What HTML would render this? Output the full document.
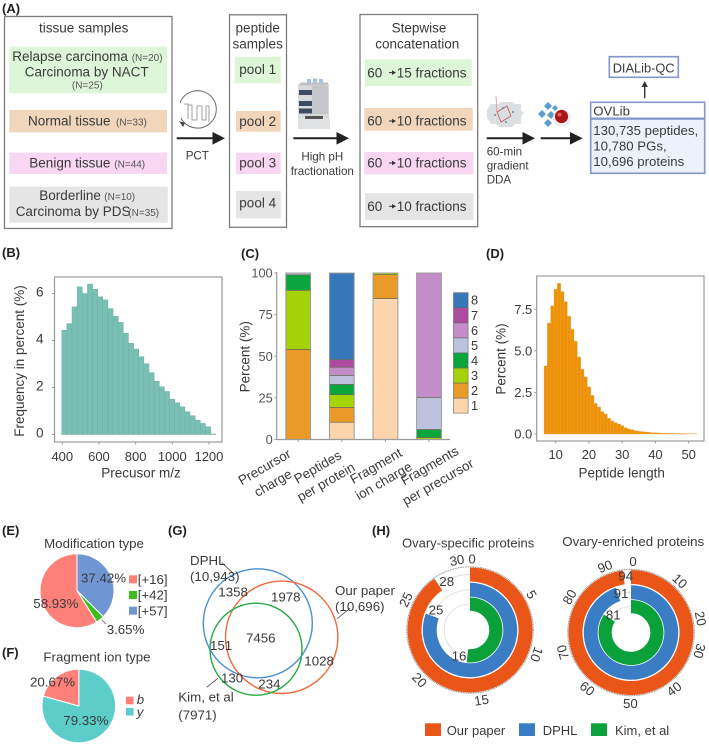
<!DOCTYPE html>
<html lang="en">
<head>
<meta charset="utf-8">
<title>Ovarian spectral library figure</title>
<style>
html,body{margin:0;padding:0;background:#fff;}
svg{display:block;filter:blur(0.3px);}
text{font-family:"Liberation Sans",Arial,sans-serif;fill:#3a3a3a;}
.b{font-weight:700;font-size:13px;fill:#222;}
.m{font-size:13.5px;}
.s{font-size:10px;fill:#555;}
.t{font-size:11.6px;}
.box{fill:#fff;stroke:#7c7c7c;stroke-width:1.3;}
.lib{stroke:#8497ca;stroke-width:1.6;}
</style>
</head>
<body>
<svg id="fig" xmlns="http://www.w3.org/2000/svg" width="709" height="748" viewBox="0 0 709 748">
<rect width="709" height="748" fill="#fff"/>

<text class="b" x="2" y="13">(A)</text>
<text class="b" x="2" y="257">(B)</text>
<text class="b" x="241" y="258">(C)</text>
<text class="b" x="486" y="258">(D)</text>
<text class="b" x="2" y="535">(E)</text>
<text class="b" x="2" y="657">(F)</text>
<text class="b" x="168" y="535">(G)</text>
<text class="b" x="372" y="535">(H)</text>

<!-- Panel A -->
<g>
<rect class="box" x="4.5" y="16.5" width="167.5" height="212"/>
<text class="m" x="83.7" y="32.7" text-anchor="middle">tissue samples</text>
<rect x="9.3" y="46.7" width="157.7" height="46.6" fill="#def6d8"/>
<text class="m" x="12.3" y="61">Relapse carcinoma</text>
<text class="s" x="131.7" y="61">(N=20)</text>
<text class="m" x="86.7" y="76.7" text-anchor="middle">Carcinoma by NACT</text>
<text class="s" x="87.3" y="88.7" text-anchor="middle">(N=25)</text>
<rect x="9.3" y="110" width="157.7" height="22.3" fill="#f1d6bc"/>
<text class="m" x="28" y="125.7">Normal tissue</text>
<text class="s" x="116" y="125.7">(N=33)</text>
<rect x="9.3" y="152.7" width="157.7" height="21.3" fill="#f9d6f1"/>
<text class="m" x="29.3" y="167.7">Benign tissue</text>
<text class="s" x="114.3" y="167.7">(N=44)</text>
<rect x="9.3" y="186.7" width="158.5" height="36" fill="#e5e5e5"/>
<text class="m" x="39.3" y="200">Borderline</text>
<text class="s" x="104.3" y="200">(N=10)</text>
<text class="m" x="15.7" y="216">Carcinoma by PDS</text>
<text class="s" x="128.3" y="216">(N=35)</text>
</g>

<g fill="none" stroke="#666">
<path d="M181 118 A18.7 18.7 0 1 0 180 103" stroke-width="1"/>
<path d="M184 104 L188 104 L188 119 M188 105 H192 V120 H197 V106 H202 V120 H206 V106 H209 V122" stroke-width="0.8" stroke="#888"/>
<polygon points="179,121 185,123 183,127" fill="#444" stroke="none"/>
</g>
<g>
<line x1="176.7" y1="138.3" x2="214" y2="138.3" stroke="#222" stroke-width="2"/>
<polygon points="212.5,132 225,138.3 212.5,144.6" fill="#222"/>
</g>
<text class="t" x="197.3" y="159.3" text-anchor="middle">PCT</text>

<g>
<rect class="box" x="229.5" y="14.8" width="57" height="212.5"/>
<text class="m" x="257.7" y="32.7" text-anchor="middle">peptide</text>
<text class="m" x="257.7" y="48.3" text-anchor="middle">samples</text>
<rect x="234.7" y="56.7" width="46" height="26.6" fill="#def6d8"/>
<text class="m" x="257.7" y="74" text-anchor="middle">pool 1</text>
<rect x="236" y="111" width="44.7" height="20.7" fill="#f1d6bc"/>
<text class="m" x="257.7" y="126" text-anchor="middle">pool 2</text>
<rect x="236" y="152.7" width="44.7" height="21.3" fill="#f9d6f1"/>
<text class="m" x="257.7" y="167.7" text-anchor="middle">pool 3</text>
<rect x="236" y="191" width="44.7" height="27.3" fill="#e5e5e5"/>
<text class="m" x="257.7" y="207.3" text-anchor="middle">pool 4</text>
</g>

<g>
<rect x="298" y="84" width="31" height="35" fill="#d9dadc"/>
<rect x="307" y="79" width="4" height="4" fill="#9fc3e6"/>
<rect x="313" y="78.5" width="4" height="4.5" fill="#9fc3e6"/>
<rect x="319" y="79" width="4" height="4" fill="#9fc3e6"/>
<rect x="300" y="82.5" width="28" height="3" fill="#bfc1c5"/>
<rect x="299" y="90" width="13" height="5" fill="#3d4c61"/>
<rect x="299" y="101" width="13" height="5" fill="#3d4c61"/>
<rect x="299" y="108.5" width="13" height="5" fill="#3d4c61"/>
<rect x="312" y="86" width="16" height="28" fill="#c4c6ca"/>
<rect x="298" y="118" width="32" height="11" fill="#e1e2e4"/>
<rect x="305" y="116" width="18" height="3" fill="#555"/>
</g>
<g>
<line x1="293.3" y1="138.3" x2="338" y2="138.3" stroke="#222" stroke-width="2"/>
<polygon points="336.5,132 349,138.3 336.5,144.6" fill="#222"/>
</g>
<text class="t" x="322.3" y="160.7" text-anchor="middle">High pH</text>
<text class="t" x="322.3" y="175" text-anchor="middle">fractionation</text>

<g>
<rect class="box" x="360" y="14.5" width="117.7" height="212.2"/>
<text class="m" x="419" y="32.7" text-anchor="middle">Stepwise</text>
<text class="m" x="417.3" y="48.3" text-anchor="middle">concatenation</text>
<rect x="365" y="59.3" width="106.7" height="26.7" fill="#def6d8"/>
<rect x="364.3" y="108" width="108.4" height="22.7" fill="#f1d6bc"/>
<rect x="364.3" y="152" width="109" height="22.3" fill="#f9d6f1"/>
<rect x="365" y="193" width="108.3" height="27" fill="#e5e5e5"/>
<text class="m" x="367.3" y="77.3">60</text>
<text class="m" x="396.7" y="77.3">15 fractions</text>
<text class="m" x="367.3" y="125.7">60</text>
<text class="m" x="396.7" y="125.7">10 fractions</text>
<text class="m" x="367.3" y="167.7">60</text>
<text class="m" x="396.7" y="167.7">10 fractions</text>
<text class="m" x="367.3" y="211">60</text>
<text class="m" x="396.7" y="211">10 fractions</text>
<g stroke="#333" stroke-width="1" fill="#333">
<line x1="389" y1="72.6" x2="393" y2="72.6"/><polygon points="392,70.3 396,72.6 392,74.9" stroke="none"/>
<line x1="389" y1="121" x2="393" y2="121"/><polygon points="392,118.7 396,121 392,123.3" stroke="none"/>
<line x1="389" y1="163" x2="393" y2="163"/><polygon points="392,160.7 396,163 392,165.3" stroke="none"/>
<line x1="389" y1="206.3" x2="393" y2="206.3"/><polygon points="392,204 396,206.3 392,208.6" stroke="none"/>
</g>
</g>

<g>
<polygon points="491,104 498,104 501,102 512,102 515,104 521,104 521,110 524,113 521,116 521,124 515,124 512,127 499,127 496,124 491,124 487,118 487,110" fill="#dcdfe2"/>
<line x1="496" y1="96" x2="497" y2="112" stroke="#e29aa0" stroke-width="0.9"/>
<polygon points="497,112 507,106 511,116 501,122" fill="none" stroke="#c9545c" stroke-width="0.8"/>
<circle cx="495" cy="115" r="1" fill="#5d8fc0"/><circle cx="503" cy="108" r="1" fill="#5d8fc0"/><circle cx="513" cy="112" r="1" fill="#5d8fc0"/><circle cx="506" cy="122" r="1" fill="#5d8fc0"/>
</g>
<g>
<line x1="486.7" y1="138.3" x2="524" y2="138.3" stroke="#222" stroke-width="2"/>
<polygon points="522.5,132 535,138.3 522.5,144.6" fill="#222"/>
</g>
<text class="t" x="486.7" y="155.7">60-min</text>
<text class="t" x="486.7" y="169.3">gradient</text>
<text class="t" x="486.7" y="183.3">DDA</text>

<g>
<g fill="#5b9ec9">
<polygon points="548,102 552,106 548,110 544,106"/><polygon points="542,110 546,114 542,118 538,114"/>
<polygon points="551,111 555,115 551,119 547,115"/><polygon points="548,119 552,123 548,127 544,123"/>
<polygon points="555,105 558,108 555,111 552,108"/>
</g>
<circle cx="562" cy="118" r="9" fill="#eceef0"/>
<circle cx="561.5" cy="116.5" r="6.6" fill="#a81818"/>
<circle cx="559.5" cy="114.5" r="2" fill="#e06060"/>
</g>
<g>
<line x1="540.7" y1="138.3" x2="571" y2="138.3" stroke="#222" stroke-width="2"/>
<polygon points="570,132 582.7,138.3 570,144.6" fill="#222"/>
</g>

<g>
<rect class="lib" x="590.7" y="102.3" width="114" height="16" fill="#fff"/>
<rect class="lib" x="590.7" y="119" width="114" height="54.3" fill="#ecf2fc"/>
<text x="593.3" y="115.7" font-size="13.2">OVLib</text>
<text x="593.3" y="135" font-size="13.2">130,735 peptides,</text>
<text x="593.3" y="150.7" font-size="13.2">10,780 PGs,</text>
<text x="593.3" y="166" font-size="13.2">10,696 proteins</text>
</g>
<g>
<rect class="lib" x="609.3" y="56.7" width="69" height="20.6" fill="#fff"/>
<text x="612.7" y="72.7" font-size="12.8">DIALib-QC</text>
</g>
<g>
<line x1="644.7" y1="98.3" x2="644.7" y2="85" stroke="#333" stroke-width="1.4"/>
<polygon points="641.5,87 644.7,81 647.9,87" fill="#333"/>
</g>

<!-- Panel G: Venn diagram -->
<g fill="none" stroke-width="1.4">
<circle cx="257.8" cy="623.3" r="54.5" stroke="#4a90d2"/>
<circle cx="281.7" cy="637.3" r="56.2" stroke="#f0693a"/>
<circle cx="256" cy="649.2" r="46" stroke="#22aa44"/>
</g>
<g stroke="#444" stroke-width="0.8">
<line x1="221.7" y1="562.7" x2="233.3" y2="573.3"/>
<line x1="336.7" y1="619" x2="350" y2="608.3"/>
<line x1="206.7" y1="687.3" x2="217.7" y2="678.3"/>
</g>
<g font-size="13.3">
<text x="190" y="565" font-size="13.3">DPHL</text>
<text x="190" y="581" font-size="13.3">(10,943)</text>
<text x="335" y="595" font-size="13.3">Our paper</text>
<text x="335" y="611" font-size="13.3">(10,696)</text>
<text x="178.3" y="701.7" font-size="13.3">Kim, et al</text>
<text x="178.3" y="719.3" font-size="13.3">(7971)</text>
<text x="218.3" y="596.7" font-size="13.3">1358</text>
<text x="271" y="601.7" font-size="13.3">1978</text>
<text x="246" y="642.7" font-size="13.3">7456</text>
<text x="210" y="650" font-size="13.3">151</text>
<text x="304.3" y="665.7" font-size="13.3">1028</text>
<text x="221" y="682.7" font-size="13.3">130</text>
<text x="258.3" y="688.3" font-size="13.3">234</text>
</g>

<!-- Panel H titles and legend -->
<text x="402" y="547.3" font-size="13">Ovary-specific proteins</text>
<text x="562.3" y="546" font-size="13.3">Ovary-enriched proteins</text>
<g>
<rect x="425" y="723.3" width="16" height="12.7" fill="#ea5618"/>
<text x="446.7" y="735" font-size="13">Our paper</text>
<rect x="519" y="723.3" width="16" height="12.7" fill="#3b7dc4"/>
<text x="542.7" y="735" font-size="13">DPHL</text>
<rect x="591" y="723.3" width="16" height="12.7" fill="#0aa13a"/>
<text x="615" y="735" font-size="13">Kim, et al</text>
</g>
</svg>

<script>
/* Panel B data */
var precursorBins = [411,439,467,495,523,551,579,607,635,663,691,719,747,775,803,831,859,887,915,943,971,999,1027,1055,1083,1111,1139,1167,1195,1223];
var precursorPercent = [4.44,4.72,5.43,6.28,6.0,6.4,6.18,5.86,5.73,5.36,5.03,4.77,4.31,3.88,3.63,3.31,3.01,2.63,2.27,2.03,1.83,1.50,1.35,1.18,0.97,0.80,0.61,0.47,0.33,0.02];
var precursorXTicks = [400,600,800,1000,1200];
var precursorYTicks = [0,2,4,6];

/* Panel C data */
var stackCategories = [["Precursor","charge"],["Peptides","per protein"],["Fragment","ion charge"],["Fragments","per precursor"]];
var stackLevels = ["1","2","3","4","5","6","7","8"];
var stackPrecursorCharge = [0.1,54,35.5,9.3,1.1,0,0,0];
var stackPeptidesPerProtein = [10.4,8.9,7.6,6.2,5.4,4.9,4.6,52];
var stackFragmentCharge = [84.7,14.3,1,0,0,0,0,0];
var stackFragmentsPerPrecursor = [0,0,1.2,4.8,19.3,74.7,0,0];
var stackYTicks = [0,25,50,75,100];

/* Panel D data */
var peptideLengths = [7,8,9,10,11,12,13,14,15,16,17,18,19,20,21,22,23,24,25,26,27,28,29,30,31,32,33,34,35,36,37,38,39,40,41,42,43,44,45,46,47,48,49,50,51,52];
var peptidePercent = [4.09,6.67,7.7,8.7,9.06,8.56,7.96,7.07,6.29,5.57,4.63,3.89,3.43,2.83,2.32,1.84,1.62,1.34,1.2,0.94,0.78,0.68,0.6,0.5,0.38,0.3,0.26,0.2,0.16,0.14,0.12,0.1,0.08,0.07,0.06,0.05,0.05,0.04,0.04,0.03,0.03,0.03,0.02,0.02,0.02,0.01];
var peptideXTicks = [10,20,30,40,50];
var peptideYTicks = [0,2.5,5,7.5];

/* Panels E, F data */
var modificationTypes = ["[+57]","[+42]","[+16]"];
var modificationValues = [37.42,3.65,58.93];
var fragmentTypes = ["y","b"];
var fragmentValues = [79.33,20.67];

/* Panel H data */
var radialSeries = ["Our paper","DPHL","Kim, et al"];
var specificValues = [28,25,16];
var specificMax = [31];
var specificTicks = [0,5,10,15,20,25,30];
var enrichedValues = [94,91,81];
var enrichedMax = [96];
var enrichedTicks = [0,10,20,30,40,50,60,70,80,90];

var svg = document.getElementById('fig');
var NS = 'http://www.w3.org/2000/svg';

function mk(tag, attrs, name, parent) {
  var el = document.createElementNS(NS, tag);
  for (var k in attrs) { el.setAttribute(k, attrs[k]); }
  
  
  (parent || svg).appendChild(el);
  return el;
}
function txt(str, x, y, size, anchor, name, extra) {
  var el = mk('text', {x: x, y: y, 'font-size': size, 'text-anchor': anchor || 'start'}, name);
  if (extra) { for (var k in extra) { el.setAttribute(k, extra[k]); } }
  el.textContent = str;
  return el;
}
function line(x1, y1, x2, y2, stroke, w, name) {
  return mk('line', {x1: x1, y1: y1, x2: x2, y2: y2, stroke: stroke, 'stroke-width': w}, name);
}

/* Panel B */
var AXIS = '#9b9b9b';
function xB(v) { return 62.3 + (v - 400) * 0.1833; }
function yB(v) { return 434.5 - v * 23.5; }
mk('rect', {x: 54.5, y: 277, width: 167.5, height: 165, fill: 'none', stroke: AXIS, 'stroke-width': 1.2}, 'precursor-plot-frame');
precursorBins.forEach(function (c, i) {
  var x0 = xB(c - 14), x1 = xB(c + 14);
  mk('rect', {x: x0, y: yB(precursorPercent[i]), width: x1 - x0, height: yB(0) - yB(precursorPercent[i]), fill: '#79bfb4', stroke: '#6cb0a5', 'stroke-width': 0.5}, 'precursor-bar-' + c);
});
precursorXTicks.forEach(function (t) {
  line(xB(t), 442, xB(t), 444.5, AXIS, 1, 'precursor-x-tick-' + t);
  txt(String(t), xB(t), 461, 13, 'middle', 'precursor-x-label-' + t);
});
precursorYTicks.forEach(function (t) {
  line(52, yB(t), 54.5, yB(t), AXIS, 1, 'precursor-y-tick-' + t);
  txt(String(t), 43.5, yB(t) + 2.8, 13.6, 'end', 'precursor-y-label-' + t);
});
txt('Precusor m/z', 141, 477.7, 13.5, 'middle', 'precursor-x-title');
txt('Frequency in percent (%)', 0, 0, 13.5, 'middle', 'precursor-y-title', {transform: 'translate(24 361) rotate(-90)'});

/* Panel C */
var stackColors = ['#fdd5ac','#ea9a28','#a5d30a','#0aa53c','#bcc1dd','#c48cc8','#ae4ba0','#3678ba'];
var stackRows = [stackPrecursorCharge, stackPeptidesPerProtein, stackFragmentCharge, stackFragmentsPerPrecursor];
function xC(i) { return 298.2 + i * 43.6; }
function yC(v) { return 439.5 - v * 1.665; }
stackRows.forEach(function (row, i) {
  var cum = 0;
  row.forEach(function (v, j) {
    if (v <= 0) { return; }
    mk('rect', {x: xC(i) - 12.4, y: yC(cum + v), width: 24.8, height: yC(cum) - yC(cum + v), fill: stackColors[j], stroke: '#6b6b5c', 'stroke-width': 0.7}, 'stack-bar-' + (i + 1) + '-level-' + stackLevels[j]);
    cum += v;
  });
  mk('rect', {x: xC(i) - 12.4, y: yC(cum), width: 24.8, height: yC(0) - yC(cum), fill: 'none', stroke: '#a0a0a0', 'stroke-width': 0.9}, 'stack-bar-outline-' + (i + 1));
  line(xC(i), 439.5, xC(i), 442, AXIS, 1, 'stack-x-tick-' + (i + 1));
});
line(276.7, 272, 276.7, 440, AXIS, 1.2, 'stack-y-axis');
line(276.7, 439.5, 450, 439.5, AXIS, 1.2, 'stack-x-axis');
stackYTicks.forEach(function (t) {
  line(274.5, yC(t), 276.7, yC(t), AXIS, 1, 'stack-y-tick-' + t);
  txt(String(t), 272.7, yC(t) + 4.6, 12.8, 'end', 'stack-y-label-' + t, {style: 'fill:#555'});
});
txt('Percent (%)', 0, 0, 13.5, 'middle', 'stack-y-title', {transform: 'translate(249.3 356.7) rotate(-90)'});
var labelOffsets = [[-33.7,27.5,-25.2,43.5],[-24.1,27.5,-15.8,42.5],[-9.4,26.5,-1.7,41.5],[0.7,26.2,9,42.5]];
stackCategories.forEach(function (lines, i) {
  var o = labelOffsets[i];
  var base = xC(i);
  txt(lines[0], 0, 4.5, 13.4, 'middle', 'stack-x-label-' + (i + 1) + '-line-1', {transform: 'translate(' + (base + o[0]) + ' ' + (439.5 + o[1]) + ') rotate(-30)'});
  txt(lines[1], 0, 4.5, 13.4, 'middle', 'stack-x-label-' + (i + 1) + '-line-2', {transform: 'translate(' + (base + o[2]) + ' ' + (439.5 + o[3]) + ') rotate(-30)'});
});
stackLevels.forEach(function (lab, j) {
  var rowY = 292.7 + (stackLevels.length - 1 - j) * 15.05;
  mk('rect', {x: 453.5, y: rowY, width: 14.6, height: 15.05, fill: stackColors[j], stroke: '#666', 'stroke-width': 0.6}, 'stack-legend-swatch-' + lab);
  txt(lab, 471, rowY + 12, 12.8, 'start', 'stack-legend-label-' + lab);
});

/* Panel D */
function xD(v) { return 555.7 + (v - 10) * 3.325; }
function yD(v) { return 434 - v * 16.63; }
mk('rect', {x: 536.7, y: 276, width: 167.3, height: 165, fill: 'none', stroke: AXIS, 'stroke-width': 1.2}, 'peptide-plot-frame');
peptideLengths.forEach(function (c, i) {
  mk('rect', {x: xD(c - 0.5), y: yD(peptidePercent[i]), width: xD(c + 0.5) - xD(c - 0.5), height: yD(0) - yD(peptidePercent[i]), fill: '#ef9100', stroke: '#e3a654', 'stroke-width': 0.4}, 'peptide-bar-' + c);
});
peptideXTicks.forEach(function (t) {
  line(xD(t), 441, xD(t), 443.5, AXIS, 1, 'peptide-x-tick-' + t);
  txt(String(t), xD(t), 459, 13, 'middle', 'peptide-x-label-' + t);
});
peptideYTicks.forEach(function (t) {
  line(534.3, yD(t), 536.7, yD(t), AXIS, 1, 'peptide-y-tick-' + t);
  txt(t.toFixed(1), 532.3, yD(t) + 4.7, 13, 'end', 'peptide-y-label-' + t);
});
txt('Peptide length', 621.7, 477.7, 13.5, 'middle', 'peptide-x-title');
txt('Percent (%)', 0, 0, 13.5, 'middle', 'peptide-y-title', {transform: 'translate(505.3 359) rotate(-90)'});

/* Panels E and F pies */
function polar(cx, cy, r, deg) {
  var a = (deg - 90) * Math.PI / 180;
  return [cx + r * Math.cos(a), cy + r * Math.sin(a)];
}
function pie(cx, cy, r, values, colors, names) {
  var total = values.reduce(function (a, b) { return a + b; }, 0);
  var start = 0;
  values.forEach(function (v, i) {
    var end = start + v / total * 360;
    var p0 = polar(cx, cy, r, start), p1 = polar(cx, cy, r, end);
    var d = 'M' + cx + ' ' + cy + ' L' + p0[0] + ' ' + p0[1] + ' A' + r + ' ' + r + ' 0 ' + (end - start > 180 ? 1 : 0) + ' 1 ' + p1[0] + ' ' + p1[1] + ' Z';
    mk('path', {d: d, fill: colors[i], stroke: '#fff', 'stroke-width': 1}, names[i]);
    start = end;
  });
}
txt('Modification type', 94, 548, 13.3, 'middle', 'modification-title');
pie(77, 590.7, 37, modificationValues, ['#6f96d2','#3dbb1f','#ff8078'], ['modification-slice-57','modification-slice-42','modification-slice-16']);
txt(modificationValues[0].toFixed(2) + '%', 81, 582.7, 13.3, 'start', 'modification-value-57');
txt(modificationValues[2].toFixed(2) + '%', 33.3, 608, 13.3, 'start', 'modification-value-16');
txt(modificationValues[1].toFixed(2) + '%', 106.7, 634, 13.3, 'start', 'modification-value-42');
line(101.7, 620, 106, 624, '#555', 0.8, 'modification-leader-42');
['#ff8078','#3dbb1f','#6f96d2'].forEach(function (col, i) {
  var rowY = 579.3 + i * 15.7;
  var lab = modificationTypes[modificationTypes.length - 1 - i];
  mk('rect', {x: 129, y: rowY - 4, width: 8, height: 8, fill: col}, 'modification-legend-swatch-' + i);
  txt(lab, 137.7, rowY + 4.7, 13.3, 'start', 'modification-legend-label-' + i);
});

txt('Fragment ion type', 97, 661.7, 13.3, 'middle', 'fragment-title');
pie(78.8, 706, 36.8, fragmentValues, ['#5ccdc9','#ff8078'], ['fragment-slice-y','fragment-slice-b']);
txt(fragmentValues[1].toFixed(2) + '%', 30, 686.7, 13.3, 'start', 'fragment-value-b');
txt(fragmentValues[0].toFixed(2) + '%', 63.3, 725, 13.3, 'start', 'fragment-value-y');
mk('rect', {x: 126, y: 696.7, width: 7.6, height: 7.6, fill: '#ff8078'}, 'fragment-legend-swatch-b');
txt(fragmentTypes[1], 136.7, 704, 13.3, 'start', 'fragment-legend-label-b', {'font-style': 'italic'});
mk('rect', {x: 126, y: 708, width: 7.6, height: 7.6, fill: '#5ccdc9'}, 'fragment-legend-swatch-y');
txt(fragmentTypes[0], 136.7, 716.7, 13.3, 'start', 'fragment-legend-label-y', {'font-style': 'italic'});

/* Panel H radial bars */
var ringRadii = [[48.5, 62.5], [33.3, 47.2], [19.3, 32.5]];
var ringColors = ['#ea5618', '#3b7dc4', '#0aa13a'];
function annulus(cx, cy, r0, r1, deg) {
  var a = polar(cx, cy, r1, 0), b = polar(cx, cy, r1, deg), c = polar(cx, cy, r0, deg), e = polar(cx, cy, r0, 0);
  var large = deg > 180 ? 1 : 0;
  return 'M' + a[0] + ' ' + a[1] + ' A' + r1 + ' ' + r1 + ' 0 ' + large + ' 1 ' + b[0] + ' ' + b[1] +
         ' L' + c[0] + ' ' + c[1] + ' A' + r0 + ' ' + r0 + ' 0 ' + large + ' 0 ' + e[0] + ' ' + e[1] + ' Z';
}
function tickRotation(deg) {
  if (deg <= 120) { return deg; }
  if (deg < 250) { return deg - 180; }
  return deg - 360;
}
function radial(prefix, cx, cy, values, maxV, ticks, labelNudge) {
  function angle(v) { return v / maxV * 360; }
  mk('circle', {cx: cx, cy: cy, r: 63.2, fill: 'none', stroke: '#888', 'stroke-width': 1, 'stroke-dasharray': '1 0.7'}, prefix + '-outer-axis');
  [55.5, 40.2, 25.9].forEach(function (r, i) {
    mk('circle', {cx: cx, cy: cy, r: r, fill: 'none', stroke: '#dedede', 'stroke-width': 0.9}, prefix + '-grid-ring-' + (i + 1));
  });
  values.forEach(function (v, i) {
    mk('path', {d: annulus(cx, cy, ringRadii[i][0], ringRadii[i][1], angle(v)), fill: ringColors[i]}, prefix + '-arc-' + radialSeries[i].toLowerCase().replace(/[^a-z]+/g, '-'));
  });
  ticks.forEach(function (t, i) {
    var deg = angle(t) + labelNudge[i];
    var p = polar(cx, cy, 71, deg);
    var shift = t === 0 ? 2 : 0;
    txt(String(t), 0, 4.6, 13.2, 'middle', prefix + '-tick-label-' + t, {transform: 'translate(' + (p[0] + shift) + ' ' + p[1] + ') rotate(' + tickRotation(deg) + ')'});
  });
}
radial('specific', 470, 630, specificValues, specificMax[0], specificTicks, [0,2,-6,-3.5,-7,5,1]);
txt(String(specificValues[0]), 446.7, 586.2, 13.3, 'middle', 'specific-value-our-paper');
txt(String(specificValues[1]), 436, 614.5, 13.3, 'middle', 'specific-value-dphl');
txt(String(specificValues[2]), 459, 660.5, 13.3, 'middle', 'specific-value-kim');
radial('enriched', 631, 632.5, enrichedValues, enrichedMax[0], enrichedTicks, [0,6,3.6,-7.4,-7.3,-7,-7,-8.7,0,1]);
txt(String(enrichedValues[0]), 625.7, 580.5, 13.3, 'middle', 'enriched-value-our-paper');
txt(String(enrichedValues[1]), 621, 597.8, 13.3, 'middle', 'enriched-value-dphl');
txt(String(enrichedValues[2]), 613.3, 619.5, 13.3, 'middle', 'enriched-value-kim');
</script>
</body>
</html>
